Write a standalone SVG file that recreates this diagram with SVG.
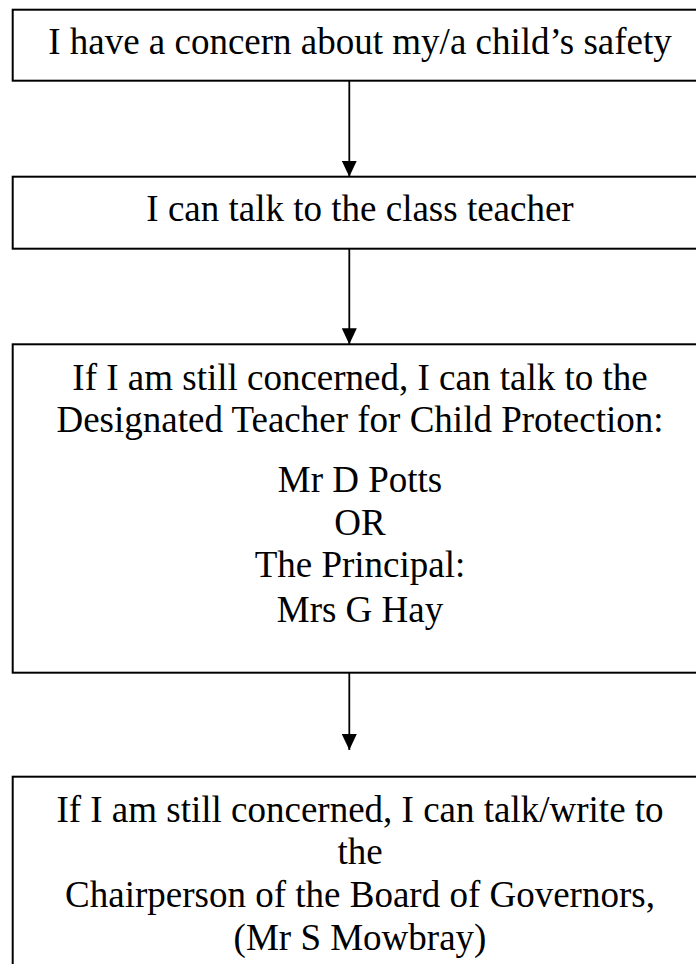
<svg xmlns="http://www.w3.org/2000/svg" width="696" height="964" viewBox="0 0 696 964">
<style>
.box{fill:#fff;stroke:#000;stroke-width:2}
.t{font-family:"Liberation Serif","Times New Roman",serif;font-size:37px;fill:#000;text-anchor:middle}
.c{stroke:#000;stroke-width:1.8;fill:none}
</style>
<defs>
<marker id="ah" viewBox="0 0 16 15" refX="16" refY="7.5" markerWidth="16" markerHeight="15" markerUnits="userSpaceOnUse" orient="auto">
<path d="M0,0 L16,7.5 L0,15 Z" fill="#000"/>
</marker>
</defs>
<rect width="696" height="964" fill="#fff"/>
<g id="connectors">
<line class="c" x1="349.3" y1="80.7" x2="349.3" y2="176.7" marker-end="url(#ah)"/>
<line class="c" x1="349.3" y1="248.7" x2="349.3" y2="344.3" marker-end="url(#ah)"/>
<line class="c" x1="349.3" y1="672.7" x2="349.3" y2="750" marker-end="url(#ah)"/>
</g>
<g id="n1">
<rect class="box" x="12.7" y="9.7" width="695" height="71"/>
<text class="t" x="360" y="54">I have a concern about my/a child’s safety</text>
</g>
<g id="n2">
<rect class="box" x="12.7" y="176.7" width="695" height="72"/>
<text class="t" x="360" y="221">I can talk to the class teacher</text>
</g>
<g id="n3">
<rect class="box" x="12.7" y="344.3" width="695" height="328.4"/>
<text class="t" x="360" y="390">If I am still concerned, I can talk to the</text>
<text class="t" x="360" y="432">Designated Teacher for Child Protection:</text>
<text class="t" x="360" y="492">Mr D Potts</text>
<text class="t" x="360" y="535">OR</text>
<text class="t" x="360" y="577">The Principal:</text>
<text class="t" x="360" y="621.7">Mrs G Hay</text>
</g>
<g id="n4">
<rect class="box" x="12.7" y="776.7" width="695" height="200"/>
<text class="t" x="360" y="821.5">If I am still concerned, I can talk/write to</text>
<text class="t" x="360" y="864.2">the</text>
<text class="t" x="360" y="906.9">Chairperson of the Board of Governors,</text>
<text class="t" x="360" y="949.6">(Mr S Mowbray)</text>
</g>
</svg>
